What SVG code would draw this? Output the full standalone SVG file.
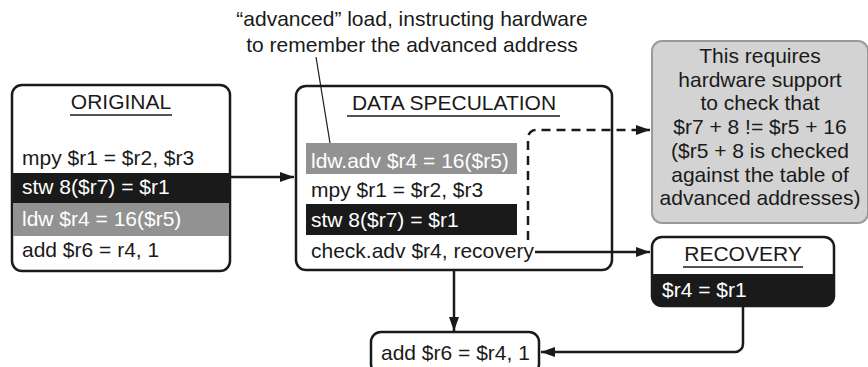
<svg xmlns="http://www.w3.org/2000/svg" width="868" height="367" viewBox="0 0 868 367">
<defs>
<style>
text{font-family:"Liberation Sans",Arial,sans-serif;font-size:21px;fill:#1a1a1a}
.w{fill:#ffffff}
.c{text-anchor:middle}
.box{fill:#ffffff;stroke:#1a1a1a;stroke-width:2.5}
.ul{stroke:#1a1a1a;stroke-width:1.5}
.ln{fill:none;stroke:#1a1a1a;stroke-width:2.5}
.dash{fill:none;stroke:#1a1a1a;stroke-width:2.5;stroke-dasharray:9 6}
.blk{fill:#1a1a1a}
.gry{fill:#929292}
</style>
<marker id="ah" viewBox="0 0 14 10" refX="14" refY="5" markerWidth="14" markerHeight="10" markerUnits="userSpaceOnUse" orient="auto">
<path d="M0,0 L14,5 L0,10 Z" fill="#1a1a1a"/>
</marker>
</defs>

<g id="original">
<rect class="box" x="12" y="85" width="218" height="186" rx="10"/>
<rect class="blk" x="13" y="173" width="216" height="30"/>
<rect class="gry" x="13" y="203" width="216" height="33"/>
<text class="c" x="121" y="109">ORIGINAL</text>
<line class="ul" x1="70" y1="115" x2="172" y2="115"/>
<text x="22" y="165">mpy $r1 = $r2, $r3</text>
<text class="w" x="22" y="194">stw 8($r7) = $r1</text>
<text class="w" x="22" y="226">ldw $r4 = 16($r5)</text>
<text x="22" y="257">add $r6 = r4, 1</text>
</g>

<g id="data-speculation">
<rect class="box" x="296" y="86" width="316" height="184" rx="10"/>
<rect class="gry" x="306" y="143" width="211" height="31"/>
<rect class="blk" x="306" y="204" width="211" height="31"/>
<text class="c" x="454" y="110">DATA SPECULATION</text>
<line class="ul" x1="347" y1="116" x2="560" y2="116"/>
<text class="w" x="311" y="168">ldw.adv $r4 = 16($r5)</text>
<text x="311" y="197">mpy $r1 = $r2, $r3</text>
<text class="w" x="311" y="227">stw 8($r7) = $r1</text>
<text x="311" y="258">check.adv $r4, recovery</text>
</g>

<g id="annotation">
<text class="c" x="412" y="26">“advanced” load, instructing hardware</text>
<text class="c" x="412" y="52">to remember the advanced address</text>
<line x1="316" y1="57" x2="330" y2="143" stroke="#1a1a1a" stroke-width="1.2"/>
</g>

<g id="note">
<rect x="652" y="41" width="216" height="182" rx="10" fill="#d3d3d3" stroke="#9a9a9a" stroke-width="2"/>
<text class="c" x="760" y="63">This requires</text>
<text class="c" x="760" y="87">hardware support</text>
<text class="c" x="760" y="110">to check that</text>
<text class="c" x="760" y="134">$r7 + 8 != $r5 + 16</text>
<text class="c" x="760" y="158">($r5 + 8 is checked</text>
<text class="c" x="760" y="182">against the table of</text>
<text class="c" x="760" y="205">advanced addresses)</text>
</g>

<g id="recovery">
<rect class="box" x="652" y="237" width="182" height="69" rx="10"/>
<path class="blk" d="M652,274 H834 V296 A10,10 0 0 1 824,306 H662 A10,10 0 0 1 652,296 Z"/>
<text class="c" x="743" y="261">RECOVERY</text>
<line class="ul" x1="683" y1="267" x2="803" y2="267"/>
<text class="w" x="662" y="297">$r4 = $r1</text>
</g>

<g id="add">
<rect class="box" x="371" y="332" width="168" height="42" rx="10"/>
<text x="381" y="360">add $r6 = $r4, 1</text>
</g>

<g id="connectors">
<line class="ln" x1="230" y1="177" x2="294" y2="177" marker-end="url(#ah)"/>
<path class="dash" d="M528,240 V138 A8,8 0 0 1 536,130 H636"/>
<line class="ln" x1="636" y1="130" x2="650" y2="130" marker-end="url(#ah)"/>
<line class="ln" x1="535" y1="252" x2="650" y2="252" marker-end="url(#ah)"/>
<line class="ln" x1="454" y1="270" x2="454" y2="331" marker-end="url(#ah)"/>
<path class="ln" d="M743,306 V344 A8,8 0 0 1 735,352 H541" marker-end="url(#ah)"/>
</g>
</svg>
